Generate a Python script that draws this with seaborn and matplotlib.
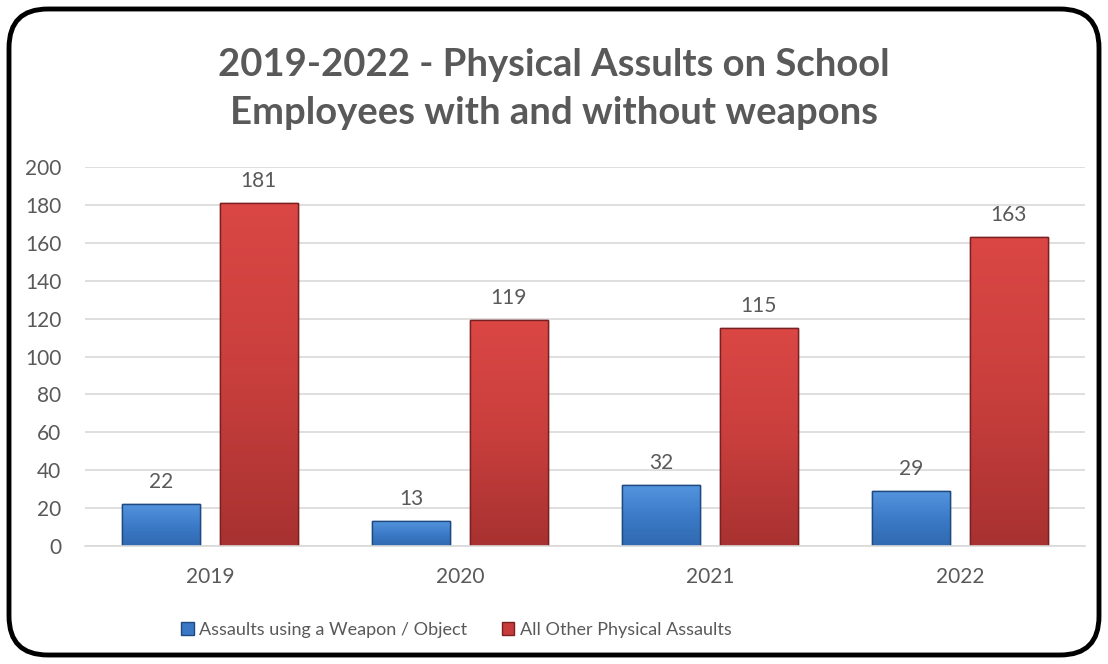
import matplotlib
matplotlib.use("Agg")
import matplotlib.pyplot as plt
from matplotlib.patches import FancyBboxPatch, Patch
from matplotlib.colors import LinearSegmentedColormap
import numpy as np
import seaborn as sns
import pandas as pd

years = ["2019", "2020", "2021", "2022"]
series_names = ["Assaults using a Weapon / Object", "All Other Physical Assaults"]
weapon_counts = [22, 13, 32, 29]
other_counts = [181, 119, 115, 163]
y_ticks = [0, 20, 40, 60, 80, 100, 120, 140, 160, 180, 200]

bar_colors = ["#3A78C6", "#C73C3B"]
edge_colors = ["#1F4A80", "#7A2020"]
# top-to-bottom shading for each series
shades = [["#5494DE", "#3C7BC8", "#3069B0"], ["#DA4744", "#C93F3D", "#A83231"]]
text_gray = "#595959"

df = pd.DataFrame({
    "Year": years * 2,
    "Series": [series_names[0]] * len(years) + [series_names[1]] * len(years),
    "Count": weapon_counts + other_counts,
})

sns.set_theme(style="white")
plt.rcParams["font.family"] = ["Lato", "DejaVu Sans"]

fig = plt.figure(figsize=(11.08, 6.64), dpi=100)
ax = fig.add_axes([0.0767, 0.1777, 0.9025, 0.5708])

sns.barplot(data=df, x="Year", y="Count", hue="Series", hue_order=series_names,
            palette=bar_colors, saturation=1, width=0.78, gap=0.2, ax=ax,
            legend=False, linewidth=1.0)

ax.set_ylim(0, 200)
ax.set_xlim(-0.5, 3.5)

for cont, ec, sh in zip(ax.containers, edge_colors, shades):
    cmap = LinearSegmentedColormap.from_list("shade", sh[::-1])
    for p in cont:
        p.set_edgecolor(ec)
        x0, y0 = p.get_x(), p.get_y()
        w, h = p.get_width(), p.get_height()
        grad = np.linspace(0, 1, 64).reshape(-1, 1)
        im = ax.imshow(grad, cmap=cmap, aspect="auto", origin="lower",
                       extent=(x0, x0 + w, y0, y0 + h), zorder=p.get_zorder() + 0.1,
                       interpolation="bilinear")
        im.set_clip_path(p)
        # dark outline on top of the shading
        ax.add_patch(plt.Rectangle((x0, y0), w, h, facecolor="none", edgecolor=ec,
                                   linewidth=1.0, zorder=p.get_zorder() + 0.2))
    ax.bar_label(cont, fmt="%d", padding=9, fontsize=15, color=text_gray)

ax.set_ylim(0, 200)
ax.set_xlim(-0.5, 3.5)
ax.set_yticks(y_ticks)
ax.yaxis.grid(True, color="#D9D9D9", linewidth=1.2)
ax.set_axisbelow(True)
for s in ["top", "right", "left"]:
    ax.spines[s].set_visible(False)
ax.spines["bottom"].set_color("#D9D9D9")
ax.spines["bottom"].set_linewidth(1.2)
ax.tick_params(axis="both", length=0, labelsize=15, colors=text_gray)
ax.tick_params(axis="x", pad=15)
ax.tick_params(axis="y", pad=17)
ax.set_xlabel("")
ax.set_ylabel("")

fig.text(0.5, 0.866, "2019-2022 - Physical Assults on School\nEmployees with and without weapons",
         ha="center", va="center", fontsize=27.5, fontweight="bold", color=text_gray,
         linespacing=1.52)

handles = [Patch(facecolor=c, edgecolor=e) for c, e in zip(bar_colors, edge_colors)]
fig.legend(handles, series_names, loc="center", bbox_to_anchor=(0.412, 0.051), ncol=2,
           frameon=False, fontsize=13, labelcolor=text_gray, handlelength=0.7,
           handleheight=0.7, handletextpad=0.3, columnspacing=1.9)

border = FancyBboxPatch((9 / 1108, 9 / 664), 1 - 18 / 1108, 1 - 18 / 664,
                        boxstyle="round,pad=0,rounding_size=0.035",
                        transform=fig.transFigure, facecolor="none",
                        edgecolor="black", linewidth=3.5, mutation_aspect=1108 / 664)
fig.patches.append(border)

fig.savefig("out.png", dpi=100, facecolor="white")
